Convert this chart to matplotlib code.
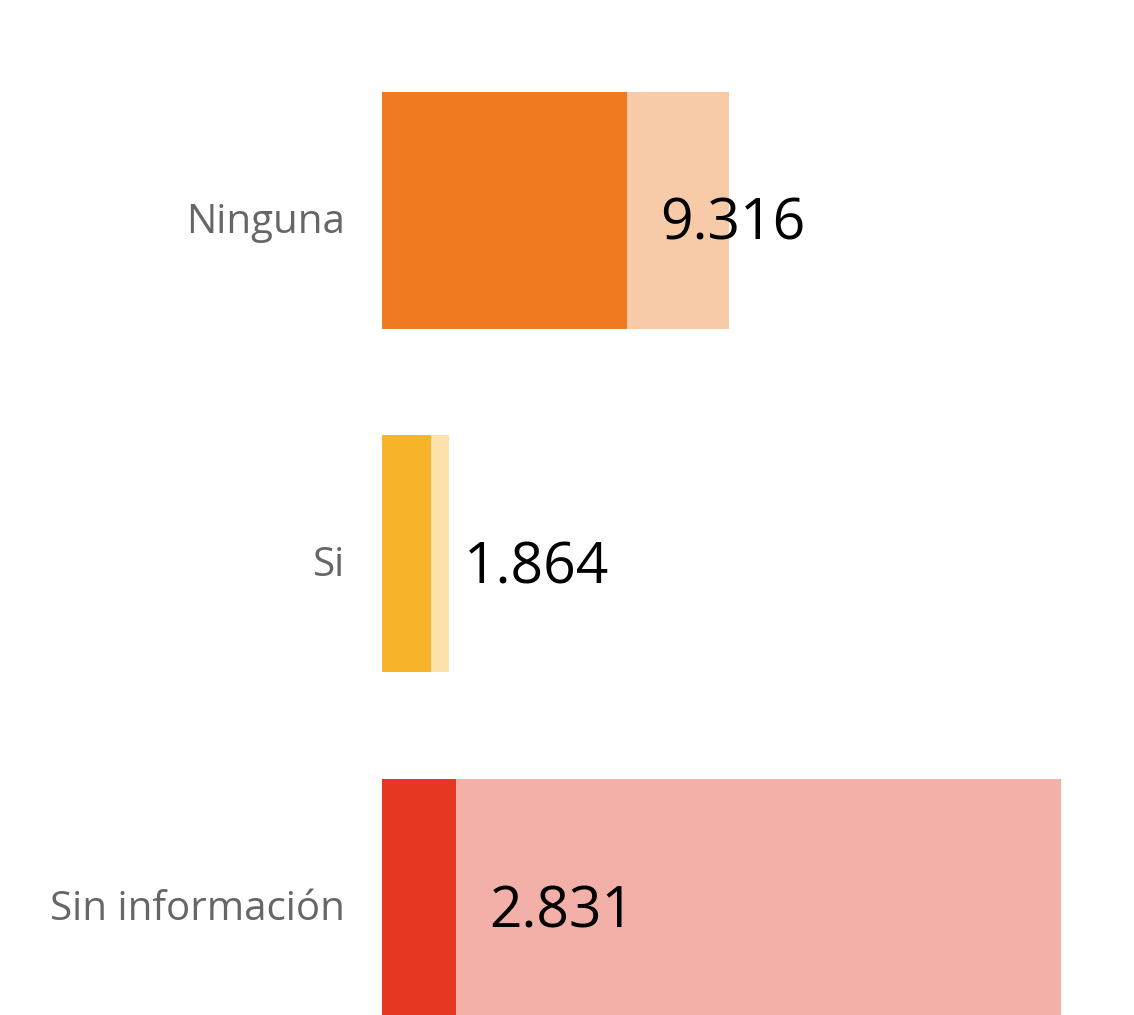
import matplotlib
matplotlib.use("Agg")
import matplotlib.pyplot as plt

plt.rcParams['font.family'] = ['Open Sans', 'DejaVu Sans']

# datos
categorias = ["Ninguna", "Si", "Sin información"]
valores = [9316, 1864, 2831]
referencia = [13190, 2550, 25820]
etiquetas = ["9.316", "1.864", "2.831"]

colores_fuertes = ["#F07A22", "#F7B32A", "#E53622"]
colores_claros = ["#F7CAA8", "#FCE2AA", "#F3B0A8"]

W, H = 1134, 1015
fig = plt.figure(figsize=(W / 100, H / 100), dpi=100)
fig.patch.set_facecolor('white')

# eje: desde x=382 px hasta el borde derecho
ax = fig.add_axes([382 / W, 0, 1 - 382 / W, 1])
escala = 0.0263  # px por unidad
ax.set_xlim(0, (W - 382) / escala)

paso = 343.5
y_top = 210
ax.set_ylim((H - y_top) / paso, -y_top / paso)

pos = list(range(len(categorias)))
alto = 237 / paso

ax.barh(pos, referencia, height=alto, color=colores_claros, left=0)
ax.barh(pos, valores, height=alto, color=colores_fuertes, left=0)

px = 72 / 100
for i, (v, txt, cat) in enumerate(zip(valores, etiquetas, categorias)):
    ax.annotate(txt, xy=(v, i), xytext=(33 * px, -30 * px),
                textcoords='offset points', ha='left', va='baseline',
                fontsize=41, color='black')
    ax.annotate(cat, xy=(0, i), xycoords=('axes fraction', 'data'),
                xytext=(-37 * px, -23 * px), textcoords='offset points',
                ha='right', va='baseline', fontsize=29, color='#666666',
                annotation_clip=False)

ax.axis('off')

plt.savefig('out.png', dpi=100)
plt.close()
